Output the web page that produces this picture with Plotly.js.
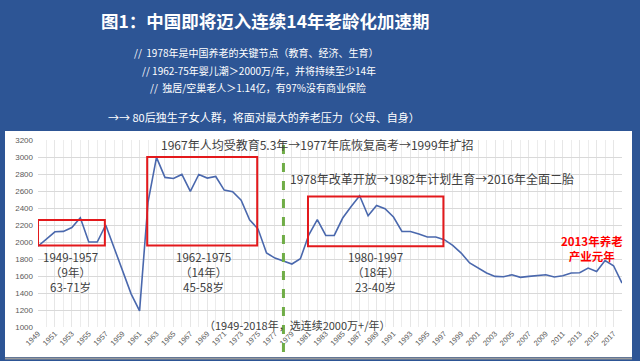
<!DOCTYPE html>
<html>
<head>
<meta charset="utf-8">
<script src="https://cdn.plot.ly/plotly-3.0.1.min.js"></script>
<style>
html,body{margin:0;padding:0;background:#2d5595;}
#chart{width:640px;height:361px;}
</style>
</head>
<body>
<div id="chart"></div>
<script>
// ---- data (births, 万人) ----
const years = [1949,1950,1951,1952,1953,1954,1955,1956,1957,1958,1959,1960,1961,1962,1963,1964,1965,1966,1967,1968,1969,
  1970,1971,1972,1973,1974,1975,1976,1977,1978,1979,1980,1981,1982,1983,1984,1985,1986,1987,1988,1989,
  1990,1991,1992,1993,1994,1995,1996,1997,1998,1999,2000,2001,2002,2003,2004,2005,2006,2007,2008,2009,
  2010,2011,2012,2013,2014,2015,2016,2017,2018];
const births = [1950,2040,2120,2125,2170,2285,2000,2000,2200,1930,1660,1390,1190,2470,2995,2760,2748,2795,2595,2795,2752,
  2771,2611,2591,2493,2262,2152,1870,1811,1772,1741,1803,2085,2262,2077,2077,2282,2418,2544,2309,2430,
  2391,2294,2124,2124,2094,2058,2058,2027,1960,1870,1753,1694,1635,1595,1591,1615,1584,1595,1607,1615,
  1588,1603,1635,1639,1694,1654,1783,1721,1517];
const yTicks = [1000,1200,1400,1600,1800,2000,2200,2400,2600,2800,3000,3200];
const xTicks = [1949,1951,1953,1955,1957,1959,1961,1963,1965,1967,1969,1971,1973,1975,1977,1979,1981,1983,1985,1987,1989,
  1991,1993,1995,1997,1999,2001,2003,2005,2007,2009,2011,2013,2015,2017];
// highlighted periods: [startYear, endYear, low, high]
const periodStart = [1949, 1961.9, 1980.9];
const periodEnd   = [1956.9, 1974.9, 1996.9];
const periodLow   = [1960, 1960, 1950];
const periodHigh  = [2260, 3000, 2535];
const periodLabel = ['1949-1957','1962-1975','1980-1997'];
const periodLen   = ['（9年）','（14年）','（18年）'];
const periodAge   = ['63-71岁','45-58岁','23-40岁'];
const keyYear = 1978;

const titleText = '图1：中国即将迈入连续14年老龄化加速期';
const subLines = ['//  1978年是中国养老的关键节点（教育、经济、生育）',
                  '// 1962-75年婴儿潮＞2000万/年，并将持续至少14年',
                  '//  独居/空巢老人＞1.14亿，有97%没有商业保险'];
const subLine4 = '→→ 80后独生子女人群，将面对最大的养老压力（父母、自身）';
const note1 = '1967年人均受教育5.3年→1977年底恢复高考→1999年扩招';
const note2 = '1978年改革开放→1982年计划生育→2016年全面二胎';
const note3 = '（1949-2018年，选连续2000万+/年）';
const redNote = ['2013年养老','产业元年'];

// ---- layout helpers (pixel -> paper) ----
const W=640,H=361,L=38,R=18,T=140,B=34;
const PW=W-L-R, PH=H-T-B;
const px = x => (x-L)/PW;
const py = y => (H-B-y)/PH;
const CJK = '"Noto Sans CJK SC", "Noto Sans", sans-serif';

const annotations = [];
function txt(t, x, y, size, color, bold){
  annotations.push({text: bold ? '<b>'+t+'</b>' : t, xref:'paper', yref:'paper', x:px(x), y:py(y),
    xanchor:'center', yanchor:'middle', showarrow:false, borderpad:0,
    font:{family:CJK, size:size, color:color}});
}
txt(titleText, 265, 20, 17.5, '#ffffff', true);
txt(subLines[0], 256, 53, 10, '#ffffff', false);
txt(subLines[1], 259, 70, 10, '#ffffff', false);
txt(subLines[2], 258, 87, 10, '#ffffff', false);
txt(subLine4, 264, 117, 11, '#ffffff', false);
txt(note1, 317, 144, 12, '#404040', false);
txt(note2, 432, 178, 12, '#404040', false);
const labelX = [70, 203, 375];
for (let i=0;i<3;i++){
  txt(periodLabel[i]+'<br>'+periodLen[i]+'<br>'+periodAge[i], labelX[i], 272, 11.5, '#404040', false);
}
txt(note3, 297, 325, 11, '#404040', false);
txt('<b>'+redNote[0]+'<br>'+redNote[1]+'</b>', 592, 248, 11.5, '#ff0000', false);

const shapes = [
  {type:'rect', xref:'paper', yref:'paper', x0:px(5), x1:px(632), y0:py(357), y1:py(131),
   fillcolor:'#ffffff', line:{width:0}, layer:'below'},
  {type:'line', xref:'paper', yref:'paper', x0:px(5), x1:px(632), y0:py(358.5), y1:py(358.5),
   line:{color:'#9a9a9a', width:2}, layer:'below'},
  {type:'line', xref:'x', yref:'paper', x0:keyYear, x1:keyYear, y0:py(352), y1:py(136),
   line:{color:'#70ad47', width:3, dash:'dash'}}
];
for (let i=0;i<3;i++){
  shapes.push({type:'rect', xref:'x', yref:'y', x0:periodStart[i], x1:periodEnd[i],
    y0:periodLow[i], y1:periodHigh[i], line:{color:'#e3191c', width:2}, fillcolor:'rgba(0,0,0,0)'});
}

const trace = {x: years, y: births, type:'scatter', mode:'lines',
  line:{color:'#4a68ad', width:1.6}, hoverinfo:'skip'};

const layout = {
  width:W, height:H,
  margin:{l:L, r:R, t:T, b:B, pad:0},
  paper_bgcolor:'#2d5595', plot_bgcolor:'rgba(0,0,0,0)',
  showlegend:false,
  xaxis:{range:[1949,2018], tickvals:xTicks, ticktext:xTicks.map(String), tickangle:-45,
    tickfont:{family:'"Liberation Sans", sans-serif', size:7.5, color:'#595959'},
    showgrid:true, gridcolor:'#e6e6e6', gridwidth:1, zeroline:false, showline:false, ticks:'',
    minor:{dtick:1, tick0:1949, showgrid:true, gridcolor:'#ececec', gridwidth:1}},
  yaxis:{range:[1000,3200], tickvals:yTicks, ticktext:yTicks.map(String),
    tickfont:{family:'"Liberation Sans", sans-serif', size:8, color:'#595959'},
    showgrid:true, gridcolor:'#d9d9d9', gridwidth:1, zeroline:false, showline:false, ticks:'',
    ticklabelstandoff:4},
  shapes:shapes,
  annotations:annotations
};

Plotly.newPlot('chart', [trace], layout, {staticPlot:true, displayModeBar:false});
</script>
</body>
</html>
